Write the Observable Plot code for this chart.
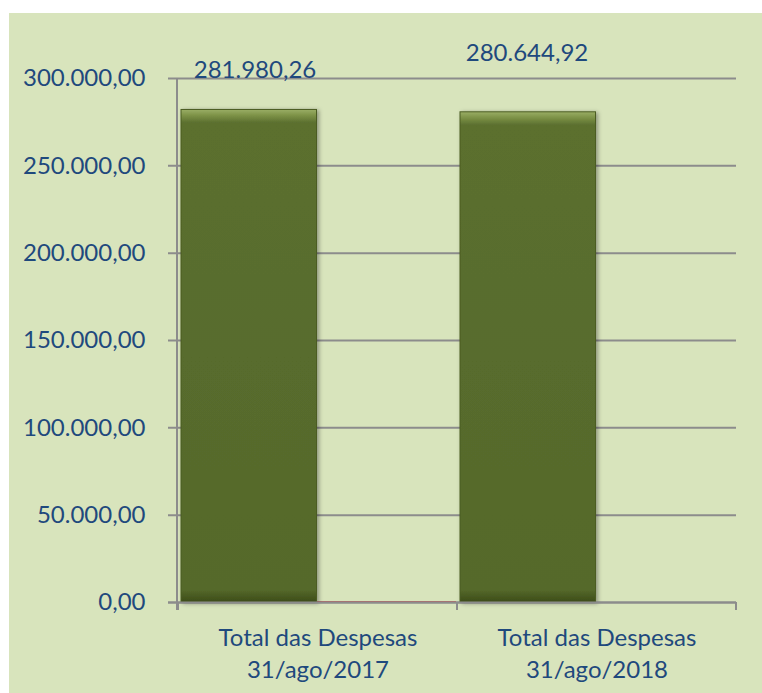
<!DOCTYPE html>
<html>
<head>
<meta charset="utf-8">
<script src="https://cdn.jsdelivr.net/npm/d3@7"></script>
<script src="https://cdn.jsdelivr.net/npm/@observablehq/plot@0.6"></script>
<style>
  html, body { margin: 0; padding: 0; background: #ffffff; }
  #chart { position: absolute; left: 9px; top: 13px; width: 753px; height: 680px; background: #d8e4bc; }
  #chart svg { display: block; background: transparent; }
</style>
</head>
<body>
<div id="chart"></div>
<script>
// ---- data ----
const categories = ["Total das Despesas\n31/ago/2017", "Total das Despesas\n31/ago/2018"];
const despesas = [281980.26, 280644.92];
const serie2 = [500, 0];
const yTicks = [0, 50000, 100000, 150000, 200000, 250000, 300000];

const ptBR = d3.formatLocale({decimal: ",", thousands: ".", grouping: [3], currency: ["R$", ""]});
const fmt = ptBR.format(",.2f");

const rows1 = categories.map((c, i) => ({cat: c, value: despesas[i], idx: i}));
const rows2 = categories.map((c, i) => ({cat: c, value: serie2[i]}));

const textColor = "#1f497d";
const gridColor = "#8c8c8c";
const font = "Lato, 'DejaVu Sans', sans-serif";

// defs + axis decorations drawn from the plot's scales/dimensions
function decorations(index, scales, values, dims) {
  const g = d3.create("svg:g");
  const defs = g.append("defs");
  const grad = defs.append("linearGradient").attr("id", "bevel").attr("x1", 0).attr("y1", 0).attr("x2", 0).attr("y2", 1);
  [[0, "#9aae66"], [0.012, "#7d9247"], [0.027, "#5b6f2f"], [0.5, "#586c2d"], [0.975, "#55692b"], [0.99, "#46571f"], [1, "#3d4c1a"]]
    .forEach(([o, c]) => grad.append("stop").attr("offset", o).attr("stop-color", c));
  const f = defs.append("filter").attr("id", "shadow").attr("x", "-5%").attr("y", "-5%").attr("width", "115%").attr("height", "115%");
  f.append("feDropShadow").attr("dx", 2).attr("dy", 1).attr("stdDeviation", 2).attr("flood-color", "#000").attr("flood-opacity", 0.35);

  const y0 = scales.y(0);
  const yTop = scales.y(300000);
  const left = dims.marginLeft;
  const right = dims.width - dims.marginRight;
  // vertical axis line
  g.append("line").attr("x1", left).attr("x2", left).attr("y1", yTop).attr("y2", y0 + 8)
    .attr("stroke", gridColor).attr("stroke-width", 2);
  // category boundary ticks
  const bounds = categories.map(c => scales.x(c)).concat([right]);
  bounds.forEach(x => {
    g.append("line").attr("x1", x).attr("x2", x).attr("y1", y0).attr("y2", y0 + 8)
      .attr("stroke", gridColor).attr("stroke-width", 2);
  });
  return g.node();
}

const plot = Plot.plot({
  width: 753,
  height: 680,
  marginLeft: 168,
  marginRight: 26,
  marginTop: 65,
  marginBottom: 91,
  style: {fontFamily: font, background: "transparent"},
  x: {domain: categories, padding: 0, axis: null},
  y: {domain: [0, 300000], axis: null},
  marks: [
    Plot.ruleY(yTicks, {stroke: gridColor, strokeWidth: 2, strokeOpacity: 1, insetLeft: -9}),
    Plot.barY(rows2, {x: "cat", y: "value", fill: "#c0504d", insetLeft: 139, insetRight: 1}),
    Plot.barY(rows1, {x: "cat", y: "value", fill: "url(#bevel)", stroke: "#4b5c22", strokeWidth: 1, insetLeft: 3, insetRight: 140.5}),
    decorations,
    Plot.ruleY([0], {stroke: gridColor, strokeWidth: 2, insetLeft: -9}),
    Plot.axisY({ticks: yTicks, tickFormat: fmt, tickSize: 0, tickPadding: 32, fontSize: 24, fill: textColor, stroke: null, label: null}),
    Plot.axisX({tickSize: 0, tickPadding: 21, fontSize: 24, fill: textColor, lineHeight: 1.32, label: null}),
    Plot.text(rows1.filter(d => d.idx === 0), {x: "cat", y: "value", text: d => fmt(d.value), fontSize: 24, fill: textColor, dx: -63, dy: -40}),
    Plot.text(rows1.filter(d => d.idx === 1), {x: "cat", y: "value", text: d => fmt(d.value), fontSize: 24, fill: textColor, dx: -70, dy: -59})
  ]
});

document.getElementById("chart").appendChild(plot);
// soft drop shadow on the main bars
d3.select(plot).selectAll("g[aria-label='bar']").filter((d, i) => i === 1).attr("filter", "url(#shadow)");
</script>
</body>
</html>
